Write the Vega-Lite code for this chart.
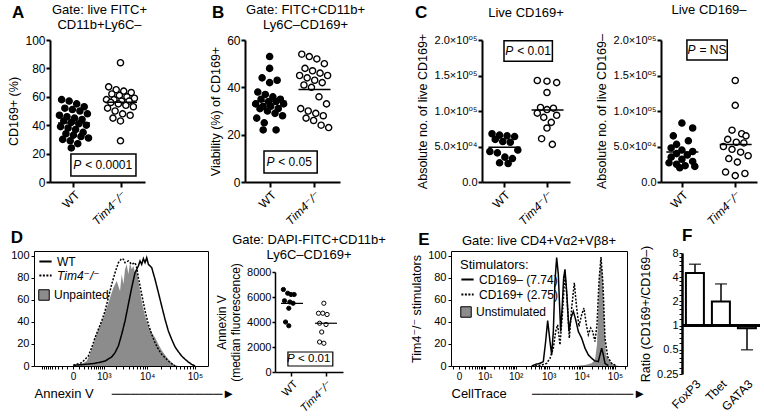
{
"$schema": "https://vega.github.io/schema/vega-lite/v6.json",
"padding": {"left": 7, "top": 3, "right": 0, "bottom": 0},
"config": {
  "font": "Liberation Sans, Arial, Helvetica, DejaVu Sans, sans-serif",
  "view": {"stroke": null},
  "axis": {"grid": false, "labelOverlap": false, "domainColor": "black", "tickColor": "black", "labelColor": "black", "titleColor": "black", "titleFontWeight": "normal", "labelFontSize": 12, "titleFontSize": 12.5},
  "title": {"fontSize": 13, "fontWeight": "normal", "color": "black"},
  "legend": {"labelColor": "black", "titleColor": "black", "labelFontSize": 12}
},
"spacing": 0,
"resolve": {"scale": {"color": "independent", "fill": "independent", "strokeDash": "independent"}, "legend": {"color": "independent", "fill": "independent", "strokeDash": "independent"}},
"vconcat": [
{
  "bounds": "flush", "spacing": 0,
  "hconcat": [
    {"width": 16, "height": 5, "data": {"values": [{}]}, "mark": {"type": "point", "opacity": 0}},
    {
      "width": 95, "height": 142,
      "title": {"text": ["Gate: live FITC+", "CD11b+Ly6C–"], "offset": -28, "dx": 2},
      "resolve": {"scale": {"x": "independent"}, "axis": {"x": "independent"}},
      "layer": [
        {
          "data": {"values": [
            {"g":"WT","v":58,"m":3},{"g":"WT","v":57,"m":10},{"g":"WT","v":55,"m":17},{"g":"WT","v":53,"m":24},
            {"g":"WT","v":52,"m":6},{"g":"WT","v":51,"m":13},{"g":"WT","v":50,"m":20},{"g":"WT","v":48,"m":27},
            {"g":"WT","v":47,"m":1},{"g":"WT","v":46,"m":8},{"g":"WT","v":45,"m":15},{"g":"WT","v":44,"m":22},
            {"g":"WT","v":43,"m":5},{"g":"WT","v":42,"m":12},{"g":"WT","v":41,"m":19},{"g":"WT","v":40,"m":26},
            {"g":"WT","v":39,"m":2},{"g":"WT","v":38,"m":9},{"g":"WT","v":37,"m":16},{"g":"WT","v":35,"m":23},
            {"g":"WT","v":34,"m":7},{"g":"WT","v":33,"m":14},{"g":"WT","v":32,"m":21},{"g":"WT","v":31,"m":28},
            {"g":"WT","v":30,"m":4},{"g":"WT","v":29,"m":11},{"g":"WT","v":27,"m":18},{"g":"WT","v":24,"m":12},
            {"g":"Tim4⁻/⁻","v":84,"m":14},{"g":"Tim4⁻/⁻","v":67,"m":3},{"g":"Tim4⁻/⁻","v":65,"m":10},{"g":"Tim4⁻/⁻","v":64,"m":17},
            {"g":"Tim4⁻/⁻","v":63,"m":24},{"g":"Tim4⁻/⁻","v":62,"m":6},{"g":"Tim4⁻/⁻","v":61,"m":13},{"g":"Tim4⁻/⁻","v":60,"m":20},
            {"g":"Tim4⁻/⁻","v":59,"m":27},{"g":"Tim4⁻/⁻","v":58,"m":1},{"g":"Tim4⁻/⁻","v":58,"m":8},{"g":"Tim4⁻/⁻","v":57,"m":15},
            {"g":"Tim4⁻/⁻","v":57,"m":22},{"g":"Tim4⁻/⁻","v":56,"m":5},{"g":"Tim4⁻/⁻","v":55,"m":12},{"g":"Tim4⁻/⁻","v":54,"m":19},
            {"g":"Tim4⁻/⁻","v":53,"m":26},{"g":"Tim4⁻/⁻","v":52,"m":2},{"g":"Tim4⁻/⁻","v":50,"m":9},{"g":"Tim4⁻/⁻","v":48,"m":16},
            {"g":"Tim4⁻/⁻","v":47,"m":23},{"g":"Tim4⁻/⁻","v":45,"m":7},{"g":"Tim4⁻/⁻","v":43,"m":14},{"g":"Tim4⁻/⁻","v":29,"m":14}
          ]},
          "layer": [
            {
              "mark": {"type": "point", "shape": "circle", "filled": true, "size": 38, "stroke": "black", "strokeWidth": 1.4, "opacity": 1},
              "encoding": {
                "x": {"field": "g", "type": "nominal", "title": null, "scale": {"type": "band", "domain": ["WT", "Tim4⁻/⁻"], "paddingInner": 0.36, "paddingOuter": 0.19},
                      "axis": {"labelAngle": -45, "labelFontSize": 12, "domainWidth": 2, "tickWidth": 2, "tickSize": 5, "labelFontStyle": {"condition": {"test": "datum.value !== 'WT'", "value": "italic"}, "value": "normal"}}},
                "xOffset": {"field": "m", "type": "ordinal", "scale": {"domain": [1,2,3,4,5,6,7,8,9,10,11,12,13,14,15,16,17,18,19,20,21,22,23,24,25,26,27,28]}},
                "y": {"field": "v", "type": "quantitative", "scale": {"domain": [0, 100], "nice": false}, "axis": {"values": [0,20,40,60,80,100], "tickCount": 1000, "format": "d", "title": "CD169+ (%)", "domainWidth": 2, "tickWidth": 2, "tickSize": 4, "labelPadding": 1}},
                "fill": {"condition": {"test": "datum.g === 'WT'", "value": "black"}, "value": "white"}
              }
            },
            {
              "mark": {"type": "tick", "color": "black", "size": 32, "thickness": 1.5},
              "encoding": {
                "x": {"field": "g", "type": "nominal", "title": null, "scale": {"type": "band", "domain": ["WT", "Tim4⁻/⁻"], "paddingInner": 0.36, "paddingOuter": 0.19}},
                "y": {"aggregate": "mean", "field": "v", "type": "quantitative"}
              }
            }
          ]
        },
        {
          "data": {"values": [{}]},
          "layer": [
            {"mark": {"type": "rect", "fill": "white", "stroke": "black", "strokeWidth": 1.5},
             "encoding": {"x": {"datum": 0.22, "type": "quantitative", "scale": {"domain": [0, 1]}, "axis": null}, "x2": {"datum": 0.905}, "y": {"datum": 4.2}, "y2": {"datum": 19.7}}},
            {"mark": {"type": "text", "text": "P", "fontStyle": "italic", "fontSize": 12, "align": "right", "baseline": "middle"},
             "encoding": {"x": {"datum": 0.33, "type": "quantitative", "scale": {"domain": [0, 1]}, "axis": null}, "y": {"datum": 12}}},
            {"mark": {"type": "text", "text": "< 0.0001", "fontSize": 12, "align": "left", "baseline": "middle"},
             "encoding": {"x": {"datum": 0.37, "type": "quantitative", "scale": {"domain": [0, 1]}, "axis": null}, "y": {"datum": 12}}},
            {"mark": {"type": "text", "text": "A", "fontSize": 17, "fontWeight": "bold", "align": "left", "baseline": "middle"},
             "encoding": {"x": {"datum": -0.4, "type": "quantitative", "scale": {"domain": [0, 1]}, "axis": null}, "y": {"datum": 119}}}
          ]
        }
      ]
    },
    {"width": 100, "height": 5, "data": {"values": [{}]}, "mark": {"type": "point", "opacity": 0}},
    {
      "width": 95, "height": 142,
      "title": {"text": ["Gate: FITC+CD11b+", "Ly6C–CD169+"], "offset": -28, "dx": 13},
      "resolve": {"scale": {"x": "independent"}, "axis": {"x": "independent"}},
      "layer": [
        {
          "data": {"values": [
            {"g":"WT","v":53,"m":14},{"g":"WT","v":48,"m":14},{"g":"WT","v":44,"m":7},{"g":"WT","v":43,"m":21},
            {"g":"WT","v":42,"m":14},{"g":"WT","v":38,"m":3},{"g":"WT","v":37,"m":10},{"g":"WT","v":36,"m":17},
            {"g":"WT","v":35,"m":24},{"g":"WT","v":35,"m":6},{"g":"WT","v":34,"m":13},{"g":"WT","v":34,"m":20},
            {"g":"WT","v":33,"m":27},{"g":"WT","v":33,"m":1},{"g":"WT","v":32,"m":8},{"g":"WT","v":32,"m":15},
            {"g":"WT","v":31,"m":22},{"g":"WT","v":31,"m":5},{"g":"WT","v":30,"m":12},{"g":"WT","v":29,"m":19},
            {"g":"WT","v":28,"m":26},{"g":"WT","v":27,"m":2},{"g":"WT","v":25,"m":9},{"g":"WT","v":22,"m":8},{"g":"WT","v":22,"m":20},
            {"g":"Tim4⁻/⁻","v":54,"m":3},{"g":"Tim4⁻/⁻","v":53,"m":10},{"g":"Tim4⁻/⁻","v":52,"m":17},{"g":"Tim4⁻/⁻","v":50,"m":24},
            {"g":"Tim4⁻/⁻","v":48,"m":6},{"g":"Tim4⁻/⁻","v":47,"m":13},{"g":"Tim4⁻/⁻","v":46,"m":20},{"g":"Tim4⁻/⁻","v":45,"m":27},
            {"g":"Tim4⁻/⁻","v":45,"m":1},{"g":"Tim4⁻/⁻","v":44,"m":8},{"g":"Tim4⁻/⁻","v":43,"m":15},{"g":"Tim4⁻/⁻","v":42,"m":22},
            {"g":"Tim4⁻/⁻","v":41,"m":5},{"g":"Tim4⁻/⁻","v":40,"m":12},{"g":"Tim4⁻/⁻","v":36,"m":19},{"g":"Tim4⁻/⁻","v":33,"m":26},
            {"g":"Tim4⁻/⁻","v":31,"m":2},{"g":"Tim4⁻/⁻","v":30,"m":9},{"g":"Tim4⁻/⁻","v":29,"m":16},{"g":"Tim4⁻/⁻","v":28,"m":23},
            {"g":"Tim4⁻/⁻","v":27,"m":7},{"g":"Tim4⁻/⁻","v":26,"m":14},{"g":"Tim4⁻/⁻","v":24,"m":21},{"g":"Tim4⁻/⁻","v":23,"m":28}
          ]},
          "layer": [
            {
              "mark": {"type": "point", "shape": "circle", "filled": true, "size": 38, "stroke": "black", "strokeWidth": 1.4, "opacity": 1},
              "encoding": {
                "x": {"field": "g", "type": "nominal", "title": null, "scale": {"type": "band", "domain": ["WT", "Tim4⁻/⁻"], "paddingInner": 0.3, "paddingOuter": 0.23},
                      "axis": {"labelAngle": -45, "labelFontSize": 12, "domainWidth": 2, "tickWidth": 2, "tickSize": 5, "labelFontStyle": {"condition": {"test": "datum.value !== 'WT'", "value": "italic"}, "value": "normal"}}},
                "xOffset": {"field": "m", "type": "ordinal", "scale": {"domain": [1,2,3,4,5,6,7,8,9,10,11,12,13,14,15,16,17,18,19,20,21,22,23,24,25,26,27,28]}},
                "y": {"field": "v", "type": "quantitative", "scale": {"domain": [0, 60], "nice": false}, "axis": {"values": [0,20,40,60], "tickCount": 1000, "format": "d", "title": "Viability  (%) of CD169+", "domainWidth": 2, "tickWidth": 2, "tickSize": 4, "labelPadding": 1}},
                "fill": {"condition": {"test": "datum.g === 'WT'", "value": "black"}, "value": "white"}
              }
            },
            {
              "mark": {"type": "tick", "color": "black", "size": 32, "thickness": 1.5},
              "encoding": {
                "x": {"field": "g", "type": "nominal", "title": null, "scale": {"type": "band", "domain": ["WT", "Tim4⁻/⁻"], "paddingInner": 0.3, "paddingOuter": 0.23}},
                "y": {"aggregate": "mean", "field": "v", "type": "quantitative"}
              }
            }
          ]
        },
        {
          "data": {"values": [{}]},
          "layer": [
            {"mark": {"type": "rect", "fill": "white", "stroke": "black", "strokeWidth": 1.5},
             "encoding": {"x": {"datum": 0.2, "type": "quantitative", "scale": {"domain": [0, 1]}, "axis": null}, "x2": {"datum": 0.76}, "y": {"datum": 3.8}, "y2": {"datum": 13.1}}},
            {"mark": {"type": "text", "text": "P", "fontStyle": "italic", "fontSize": 12, "align": "right", "baseline": "middle"},
             "encoding": {"x": {"datum": 0.31, "type": "quantitative", "scale": {"domain": [0, 1]}, "axis": null}, "y": {"datum": 8.45}}},
            {"mark": {"type": "text", "text": "< 0.05", "fontSize": 12, "align": "left", "baseline": "middle"},
             "encoding": {"x": {"datum": 0.35, "type": "quantitative", "scale": {"domain": [0, 1]}, "axis": null}, "y": {"datum": 8.45}}},
            {"mark": {"type": "text", "text": "B", "fontSize": 17, "fontWeight": "bold", "align": "left", "baseline": "middle"},
             "encoding": {"x": {"datum": -0.347, "type": "quantitative", "scale": {"domain": [0, 1]}, "axis": null}, "y": {"datum": 71.4}}}
          ]
        }
      ]
    },
    {"width": 142, "height": 5, "data": {"values": [{}]}, "mark": {"type": "point", "opacity": 0}},
    {
      "width": 88, "height": 142,
      "title": {"text": "Live CD169+", "offset": -16},
      "resolve": {"scale": {"x": "independent"}, "axis": {"x": "independent"}},
      "layer": [
        {
          "data": {"values": [
            {"g":"WT","v":68000,"m":3},{"g":"WT","v":66000,"m":10},{"g":"WT","v":65000,"m":17},{"g":"WT","v":64000,"m":24},
            {"g":"WT","v":60000,"m":6},{"g":"WT","v":57000,"m":13},{"g":"WT","v":56000,"m":20},{"g":"WT","v":45000,"m":27},
            {"g":"WT","v":43000,"m":1},{"g":"WT","v":41000,"m":8},{"g":"WT","v":35000,"m":15},{"g":"WT","v":33000,"m":22},
            {"g":"WT","v":27000,"m":10},{"g":"WT","v":26000,"m":18},
            {"g":"Tim4⁻/⁻","v":143000,"m":5},{"g":"Tim4⁻/⁻","v":142000,"m":14},{"g":"Tim4⁻/⁻","v":140000,"m":23},{"g":"Tim4⁻/⁻","v":126000,"m":14},
            {"g":"Tim4⁻/⁻","v":105000,"m":8},{"g":"Tim4⁻/⁻","v":104000,"m":20},{"g":"Tim4⁻/⁻","v":102000,"m":14},{"g":"Tim4⁻/⁻","v":97000,"m":5},
            {"g":"Tim4⁻/⁻","v":94000,"m":23},{"g":"Tim4⁻/⁻","v":91000,"m":11},{"g":"Tim4⁻/⁻","v":84000,"m":18},{"g":"Tim4⁻/⁻","v":76000,"m":14},
            {"g":"Tim4⁻/⁻","v":61000,"m":9},{"g":"Tim4⁻/⁻","v":53000,"m":19}
          ]},
          "layer": [
            {
              "mark": {"type": "point", "shape": "circle", "filled": true, "size": 38, "stroke": "black", "strokeWidth": 1.4, "opacity": 1},
              "encoding": {
                "x": {"field": "g", "type": "nominal", "title": null, "scale": {"type": "band", "domain": ["WT", "Tim4⁻/⁻"], "paddingInner": 0.3, "paddingOuter": 0.17},
                      "axis": {"labelAngle": -45, "labelFontSize": 12, "domainWidth": 2, "tickWidth": 2, "tickSize": 5, "labelFontStyle": {"condition": {"test": "datum.value !== 'WT'", "value": "italic"}, "value": "normal"}}},
                "xOffset": {"field": "m", "type": "ordinal", "scale": {"domain": [1,2,3,4,5,6,7,8,9,10,11,12,13,14,15,16,17,18,19,20,21,22,23,24,25,26,27,28]}},
                "y": {"field": "v", "type": "quantitative", "scale": {"domain": [0, 200000], "nice": false},
                      "axis": {"values": [0,50000,100000,150000,200000], "tickCount": 1000, "labelExpr": "datum.value === 0 ? '0.0' : datum.value === 50000 ? '5.0×10⁰⁴' : datum.value === 100000 ? '1.0×10⁰⁵' : datum.value === 150000 ? '1.5×10⁰⁵' : '2.0×10⁰⁵'", "labelFontSize": 11, "title": "Absolute no. of live CD169+", "domainWidth": 2, "tickWidth": 2, "tickSize": 4, "labelPadding": 1}},
                "fill": {"condition": {"test": "datum.g === 'WT'", "value": "black"}, "value": "white"}
              }
            },
            {
              "mark": {"type": "tick", "color": "black", "size": 32, "thickness": 1.5},
              "encoding": {
                "x": {"field": "g", "type": "nominal", "title": null, "scale": {"type": "band", "domain": ["WT", "Tim4⁻/⁻"], "paddingInner": 0.3, "paddingOuter": 0.17}},
                "y": {"aggregate": "mean", "field": "v", "type": "quantitative"}
              }
            }
          ]
        },
        {
          "data": {"values": [{}]},
          "layer": [
            {"mark": {"type": "rect", "fill": "white", "stroke": "black", "strokeWidth": 1.5},
             "encoding": {"x": {"datum": 0.25, "type": "quantitative", "scale": {"domain": [0, 1]}, "axis": null}, "x2": {"datum": 0.8}, "y": {"datum": 170000}, "y2": {"datum": 199000}}},
            {"mark": {"type": "text", "text": "P", "fontStyle": "italic", "fontSize": 12, "align": "right", "baseline": "middle"},
             "encoding": {"x": {"datum": 0.355, "type": "quantitative", "scale": {"domain": [0, 1]}, "axis": null}, "y": {"datum": 184500}}},
            {"mark": {"type": "text", "text": "< 0.01", "fontSize": 12, "align": "left", "baseline": "middle"},
             "encoding": {"x": {"datum": 0.4, "type": "quantitative", "scale": {"domain": [0, 1]}, "axis": null}, "y": {"datum": 184500}}},
            {"mark": {"type": "text", "text": "C", "fontSize": 17, "fontWeight": "bold", "align": "left", "baseline": "middle"},
             "encoding": {"x": {"datum": -0.76, "type": "quantitative", "scale": {"domain": [0, 1]}, "axis": null}, "y": {"datum": 238000}}}
          ]
        }
      ]
    },
    {"width": 91, "height": 5, "data": {"values": [{}]}, "mark": {"type": "point", "opacity": 0}},
    {
      "width": 96, "height": 142,
      "title": {"text": "Live CD169–", "offset": 17},
      "resolve": {"scale": {"x": "independent"}, "axis": {"x": "independent"}},
      "layer": [
        {
          "data": {"values": [
            {"g":"WT","v":83000,"m":14},{"g":"WT","v":76000,"m":24},{"g":"WT","v":65000,"m":6},{"g":"WT","v":58000,"m":20},
            {"g":"WT","v":53000,"m":9},{"g":"WT","v":48000,"m":4},{"g":"WT","v":45000,"m":14},{"g":"WT","v":43000,"m":24},
            {"g":"WT","v":40000,"m":9},{"g":"WT","v":38000,"m":19},{"g":"WT","v":35000,"m":4},{"g":"WT","v":32000,"m":14},
            {"g":"WT","v":29000,"m":24},{"g":"WT","v":27000,"m":2},{"g":"WT","v":25000,"m":9},{"g":"WT","v":23000,"m":17},
            {"g":"WT","v":22000,"m":26},{"g":"WT","v":20000,"m":12},
            {"g":"Tim4⁻/⁻","v":143000,"m":14},{"g":"Tim4⁻/⁻","v":108000,"m":14},{"g":"Tim4⁻/⁻","v":73000,"m":11},{"g":"Tim4⁻/⁻","v":68000,"m":20},
            {"g":"Tim4⁻/⁻","v":65000,"m":24},{"g":"Tim4⁻/⁻","v":60000,"m":7},{"g":"Tim4⁻/⁻","v":56000,"m":15},{"g":"Tim4⁻/⁻","v":55000,"m":22},
            {"g":"Tim4⁻/⁻","v":50000,"m":3},{"g":"Tim4⁻/⁻","v":46000,"m":11},{"g":"Tim4⁻/⁻","v":42000,"m":19},{"g":"Tim4⁻/⁻","v":37000,"m":26},
            {"g":"Tim4⁻/⁻","v":33000,"m":8},{"g":"Tim4⁻/⁻","v":28000,"m":16},{"g":"Tim4⁻/⁻","v":14000,"m":5},{"g":"Tim4⁻/⁻","v":12000,"m":23},
            {"g":"Tim4⁻/⁻","v":9000,"m":14}
          ]},
          "layer": [
            {
              "mark": {"type": "point", "shape": "circle", "filled": true, "size": 38, "stroke": "black", "strokeWidth": 1.4, "opacity": 1},
              "encoding": {
                "x": {"field": "g", "type": "nominal", "title": null, "scale": {"type": "band", "domain": ["WT", "Tim4⁻/⁻"], "paddingInner": 0.44, "paddingOuter": 0.12},
                      "axis": {"labelAngle": -45, "labelFontSize": 12, "domainWidth": 2, "tickWidth": 2, "tickSize": 5, "labelFontStyle": {"condition": {"test": "datum.value !== 'WT'", "value": "italic"}, "value": "normal"}}},
                "xOffset": {"field": "m", "type": "ordinal", "scale": {"domain": [1,2,3,4,5,6,7,8,9,10,11,12,13,14,15,16,17,18,19,20,21,22,23,24,25,26,27,28]}},
                "y": {"field": "v", "type": "quantitative", "scale": {"domain": [0, 200000], "nice": false},
                      "axis": {"values": [0,50000,100000,150000,200000], "tickCount": 1000, "labelExpr": "datum.value === 0 ? '0.0' : datum.value === 50000 ? '5.0×10⁰⁴' : datum.value === 100000 ? '1.0×10⁰⁵' : datum.value === 150000 ? '1.5×10⁰⁵' : '2.0×10⁰⁵'", "labelFontSize": 11, "title": "Absolute no. of live CD169–", "domainWidth": 2, "tickWidth": 2, "tickSize": 4, "labelPadding": 1}},
                "fill": {"condition": {"test": "datum.g === 'WT'", "value": "black"}, "value": "white"}
              }
            },
            {
              "mark": {"type": "tick", "color": "black", "size": 32, "thickness": 1.5},
              "encoding": {
                "x": {"field": "g", "type": "nominal", "title": null, "scale": {"type": "band", "domain": ["WT", "Tim4⁻/⁻"], "paddingInner": 0.44, "paddingOuter": 0.12}},
                "y": {"aggregate": "mean", "field": "v", "type": "quantitative"}
              }
            }
          ]
        },
        {
          "data": {"values": [{}]},
          "layer": [
            {"mark": {"type": "rect", "fill": "white", "stroke": "black", "strokeWidth": 1.5},
             "encoding": {"x": {"datum": 0.27, "type": "quantitative", "scale": {"domain": [0, 1]}, "axis": null}, "x2": {"datum": 0.69}, "y": {"datum": 172000}, "y2": {"datum": 200000}}},
            {"mark": {"type": "text", "text": "P", "fontStyle": "italic", "fontSize": 12, "align": "right", "baseline": "middle"},
             "encoding": {"x": {"datum": 0.36, "type": "quantitative", "scale": {"domain": [0, 1]}, "axis": null}, "y": {"datum": 186000}}},
            {"mark": {"type": "text", "text": "= NS", "fontSize": 12, "align": "left", "baseline": "middle"},
             "encoding": {"x": {"datum": 0.4, "type": "quantitative", "scale": {"domain": [0, 1]}, "axis": null}, "y": {"datum": 186000}}}
          ]
        }
      ]
    }
  ]
},
{
  "bounds": "flush", "spacing": 0,
  "resolve": {"scale": {"color": "independent", "fill": "independent", "strokeDash": "independent"}, "legend": {"color": "independent", "fill": "independent", "strokeDash": "independent"}},
  "hconcat": [
    {
      "width": 174, "height": 115,
      "view": {"stroke": "black", "strokeWidth": 1},
      "title": {"text": "D", "anchor": "start", "frame": "bounds", "fontSize": 17, "fontWeight": "bold", "offset": 3},
      "layer": [
        {
          "data": {"values": [
            {"s":"Unpainted","x":30,"y":0},{"s":"Unpainted","x":154,"y":1.5},{"s":"Unpainted","x":276,"y":4.5},{"s":"Unpainted","x":375,"y":10.6},
            {"s":"Unpainted","x":491,"y":19.7},{"s":"Unpainted","x":628,"y":28.8},{"s":"Unpainted","x":788,"y":36.4},{"s":"Unpainted","x":975,"y":43.9},
            {"s":"Unpainted","x":1195,"y":53.0},{"s":"Unpainted","x":1452,"y":62.1},{"s":"Unpainted","x":1754,"y":71.2},{"s":"Unpainted","x":2109,"y":77.3},
            {"s":"Unpainted","x":2524,"y":68.2},{"s":"Unpainted","x":2756,"y":83.3},{"s":"Unpainted","x":3010,"y":74.2},{"s":"Unpainted","x":3283,"y":87.9},
            {"s":"Unpainted","x":3581,"y":92.4},{"s":"Unpainted","x":3900,"y":83.3},{"s":"Unpainted","x":4249,"y":93.9},{"s":"Unpainted","x":4623,"y":87.9},
            {"s":"Unpainted","x":5033,"y":90.9},{"s":"Unpainted","x":5473,"y":84.8},{"s":"Unpainted","x":5953,"y":87.9},{"s":"Unpainted","x":6467,"y":77.3},
            {"s":"Unpainted","x":7030,"y":68.2},{"s":"Unpainted","x":7633,"y":59.1},{"s":"Unpainted","x":9000,"y":45.5},{"s":"Unpainted","x":10600,"y":36.4},
            {"s":"Unpainted","x":12480,"y":30.3},{"s":"Unpainted","x":14670,"y":25.8},{"s":"Unpainted","x":17270,"y":19.7},{"s":"Unpainted","x":20280,"y":14.2},
            {"s":"Unpainted","x":23850,"y":10.0},{"s":"Unpainted","x":27990,"y":6.1},{"s":"Unpainted","x":32880,"y":3.0},{"s":"Unpainted","x":38610,"y":0.9},
            {"s":"Unpainted","x":45300,"y":0}
          ]},
          "mark": {"type": "area", "color": "#8c8c8c"},
          "encoding": {
            "x": {"field": "x", "type": "quantitative", "scale": {"type": "symlog", "constant": 300, "domain": [-1630, 187000], "nice": false, "zero": false},
                  "axis": {"values": [-1000,-900,-800,-700,-600,-500,-400,-300,-200,-100,0,100,200,300,400,500,600,700,800,900,1000,2000,3000,4000,5000,6000,7000,8000,9000,10000,20000,30000,40000,50000,60000,70000,80000,90000,100000],
                           "tickCount": 1000,
                           "labelExpr": "datum.value === 0 ? '0' : datum.value === 1000 ? '10³' : datum.value === 10000 ? '10⁴' : datum.value === 100000 ? '10⁵' : ''",
                           "domain": false, "tickSize": 3, "labelFontSize": 10, "labelPadding": 2,
                           "title": "Annexin V\u00a0\u00a0\u00a0\u00a0\u00a0────────────►", "titleAnchor": "start", "titleFontSize": 13, "titlePadding": 6}},
            "y": {"field": "y", "type": "quantitative", "scale": {"domain": [0, 104.5], "nice": false}, "axis": {"values": [0,20,40,60,80,100], "tickCount": 1000, "format": "d", "domain": false, "tickSize": 3, "labelFontSize": 11, "title": null}},
            "fill": {"field": "s", "type": "nominal", "scale": {"range": ["#8c8c8c"]}, "legend": {"orient": "none", "legendX": 4, "legendY": 38, "title": null, "symbolType": "square", "symbolStrokeColor": "black", "symbolStrokeWidth": 1, "symbolSize": 110, "labelFontSize": 12, "padding": 0}}
          }
        },
        {
          "data": {"values": [
            {"s":"WT","x":5,"y":0.6},{"s":"WT","x":232,"y":1.5},{"s":"WT","x":557,"y":2.4},{"s":"WT","x":1080,"y":4.5},{"s":"WT","x":1597,"y":8.2},
            {"s":"WT","x":1923,"y":12.1},{"s":"WT","x":2307,"y":18.2},{"s":"WT","x":2756,"y":28.8},{"s":"WT","x":3283,"y":40.9},{"s":"WT","x":3900,"y":56.1},
            {"s":"WT","x":4623,"y":71.2},{"s":"WT","x":5473,"y":84.8},{"s":"WT","x":6467,"y":90.9},{"s":"WT","x":7030,"y":95.5},{"s":"WT","x":7633,"y":92.4},
            {"s":"WT","x":8292,"y":97.6},{"s":"WT","x":9000,"y":93.9},{"s":"WT","x":9774,"y":98.5},{"s":"WT","x":10600,"y":92.4},{"s":"WT","x":12480,"y":89.4},
            {"s":"WT","x":14670,"y":78.8},{"s":"WT","x":17270,"y":66.7},{"s":"WT","x":20280,"y":54.5},{"s":"WT","x":23850,"y":42.4},{"s":"WT","x":27990,"y":31.8},
            {"s":"WT","x":32880,"y":24.2},{"s":"WT","x":38610,"y":17.3},{"s":"WT","x":45300,"y":13.0},{"s":"WT","x":53100,"y":9.1},{"s":"WT","x":62400,"y":6.1},
            {"s":"WT","x":73200,"y":3.6},{"s":"WT","x":85800,"y":1.5},{"s":"WT","x":100800,"y":0},
            {"s":"Tim4⁻/⁻","x":5,"y":0.6},{"s":"Tim4⁻/⁻","x":154,"y":3.0},{"s":"Tim4⁻/⁻","x":323,"y":9.1},{"s":"Tim4⁻/⁻","x":431,"y":16.7},
            {"s":"Tim4⁻/⁻","x":557,"y":25.8},{"s":"Tim4⁻/⁻","x":704,"y":33.3},{"s":"Tim4⁻/⁻","x":877,"y":40.9},{"s":"Tim4⁻/⁻","x":1080,"y":50.0},
            {"s":"Tim4⁻/⁻","x":1318,"y":62.1},{"s":"Tim4⁻/⁻","x":1597,"y":74.2},{"s":"Tim4⁻/⁻","x":1923,"y":84.8},{"s":"Tim4⁻/⁻","x":2307,"y":93.9},
            {"s":"Tim4⁻/⁻","x":2756,"y":97.6},{"s":"Tim4⁻/⁻","x":3010,"y":97.0},{"s":"Tim4⁻/⁻","x":3283,"y":93.9},{"s":"Tim4⁻/⁻","x":3900,"y":95.5},
            {"s":"Tim4⁻/⁻","x":4623,"y":92.4},{"s":"Tim4⁻/⁻","x":5473,"y":93.9},{"s":"Tim4⁻/⁻","x":5953,"y":89.4},{"s":"Tim4⁻/⁻","x":6467,"y":80.3},
            {"s":"Tim4⁻/⁻","x":7633,"y":65.2},{"s":"Tim4⁻/⁻","x":9000,"y":50.0},{"s":"Tim4⁻/⁻","x":10600,"y":37.9},{"s":"Tim4⁻/⁻","x":12480,"y":28.8},
            {"s":"Tim4⁻/⁻","x":14670,"y":21.2},{"s":"Tim4⁻/⁻","x":17270,"y":15.2},{"s":"Tim4⁻/⁻","x":20280,"y":10.6},{"s":"Tim4⁻/⁻","x":23850,"y":7.6},
            {"s":"Tim4⁻/⁻","x":27990,"y":4.5},{"s":"Tim4⁻/⁻","x":32880,"y":2.1},{"s":"Tim4⁻/⁻","x":38610,"y":0}
          ]},
          "mark": {"type": "line", "strokeWidth": 1.5},
          "encoding": {
            "x": {"field": "x", "type": "quantitative"},
            "y": {"field": "y", "type": "quantitative"},
            "color": {"field": "s", "type": "nominal", "scale": {"domain": ["WT", "Tim4⁻/⁻"], "range": ["black", "black"]},
                      "legend": {"orient": "none", "legendX": 4, "legendY": 3, "title": null, "symbolType": "stroke", "symbolStrokeWidth": 2, "symbolSize": 150, "labelFontSize": 12, "padding": 0, "rowPadding": 0,
                                 "encode": {"labels": {"update": {"fontStyle": {"signal": "datum.label === 'WT' ? 'normal' : 'italic'"}}}}}},
            "strokeDash": {"field": "s", "type": "nominal", "scale": {"domain": ["WT", "Tim4⁻/⁻"], "range": [[1, 0], [2, 1.5]]}}
          }
        }
      ]
    },
    {"width": 67, "height": 5, "data": {"values": [{}]}, "mark": {"type": "point", "opacity": 0}},
    {
      "width": 68, "height": 121,
      "title": {"text": ["Gate: DAPI-FITC+CD11b+", "Ly6C–CD169+"], "offset": -11},
      "resolve": {"scale": {"x": "independent"}, "axis": {"x": "independent"}},
      "layer": [
        {
          "data": {"values": [
            {"g":"WT","v":6600,"m":2},{"g":"WT","v":6300,"m":6},{"g":"WT","v":6200,"m":9},{"g":"WT","v":6200,"m":12},
            {"g":"WT","v":5700,"m":3},{"g":"WT","v":5600,"m":8},{"g":"WT","v":5500,"m":11},{"g":"WT","v":5100,"m":7},
            {"g":"WT","v":4000,"m":4},{"g":"WT","v":3700,"m":7},
            {"g":"Tim4⁻/⁻","v":5500,"m":8},{"g":"Tim4⁻/⁻","v":4700,"m":3},{"g":"Tim4⁻/⁻","v":4700,"m":7},{"g":"Tim4⁻/⁻","v":4600,"m":11},
            {"g":"Tim4⁻/⁻","v":3900,"m":4},{"g":"Tim4⁻/⁻","v":3800,"m":10},{"g":"Tim4⁻/⁻","v":3200,"m":6},{"g":"Tim4⁻/⁻","v":2400,"m":4},
            {"g":"Tim4⁻/⁻","v":2300,"m":8}
          ]},
          "layer": [
            {
              "mark": {"type": "point", "shape": "circle", "filled": true, "size": 18, "stroke": "black", "strokeWidth": 1, "opacity": 1},
              "encoding": {
                "x": {"field": "g", "type": "nominal", "title": null, "scale": {"type": "band", "domain": ["WT", "Tim4⁻/⁻"], "paddingInner": 0.4, "paddingOuter": 0.2},
                      "axis": {"labelAngle": -45, "labelFontSize": 11, "domainWidth": 1.5, "tickWidth": 1.5, "tickSize": 4, "labelFontStyle": {"condition": {"test": "datum.value !== 'WT'", "value": "italic"}, "value": "normal"}}},
                "xOffset": {"field": "m", "type": "ordinal", "scale": {"domain": [1,2,3,4,5,6,7,8,9,10,11,12]}},
                "y": {"field": "v", "type": "quantitative", "scale": {"domain": [0, 8000], "nice": false, "range": [121, 21]},
                      "axis": {"values": [0,2000,4000,6000,8000], "tickCount": 1000, "format": "d", "title": ["Annexin V", "(median fluorescence)"], "labelFontSize": 11, "titleFontSize": 12, "domainWidth": 1.5, "tickWidth": 1.5, "tickSize": 3, "labelPadding": 1}},
                "fill": {"condition": {"test": "datum.g === 'WT'", "value": "black"}, "value": "white"}
              }
            },
            {
              "mark": {"type": "tick", "color": "black", "size": 22, "thickness": 1.2},
              "encoding": {
                "x": {"field": "g", "type": "nominal", "title": null, "scale": {"type": "band", "domain": ["WT", "Tim4⁻/⁻"], "paddingInner": 0.4, "paddingOuter": 0.2}},
                "y": {"aggregate": "mean", "field": "v", "type": "quantitative"}
              }
            }
          ]
        },
        {
          "data": {"values": [{}]},
          "layer": [
            {"mark": {"type": "rect", "fill": "white", "stroke": "black", "strokeWidth": 1.2},
             "encoding": {"x": {"datum": 0.19, "type": "quantitative", "scale": {"domain": [0, 1]}, "axis": null}, "x2": {"datum": 0.85}, "y": {"datum": 480}, "y2": {"datum": 1600}}},
            {"mark": {"type": "text", "text": "P", "fontStyle": "italic", "fontSize": 11.5, "align": "right", "baseline": "middle"},
             "encoding": {"x": {"datum": 0.29, "type": "quantitative", "scale": {"domain": [0, 1]}, "axis": null}, "y": {"datum": 1040}}},
            {"mark": {"type": "text", "text": "< 0.01", "fontSize": 11.5, "align": "left", "baseline": "middle"},
             "encoding": {"x": {"datum": 0.34, "type": "quantitative", "scale": {"domain": [0, 1]}, "axis": null}, "y": {"datum": 1040}}}
          ]
        }
      ]
    },
    {"width": 108, "height": 5, "data": {"values": [{}]}, "mark": {"type": "point", "opacity": 0}},
    {
      "width": 176, "height": 115,
      "view": {"stroke": "black", "strokeWidth": 1},
      "title": {"text": "Gate: live CD4+Vα2+Vβ8+", "offset": -17},
      "layer": [
        {
          "data": {"values": [
            {"s":"Unstimulated","x":6226,"y":0},{"s":"Unstimulated","x":12464,"y":0.9},{"s":"Unstimulated","x":19792,"y":2.4},{"s":"Unstimulated","x":24934,"y":5.5},
            {"s":"Unstimulated","x":28658,"y":19.2},{"s":"Unstimulated","x":31414,"y":52.7},{"s":"Unstimulated","x":34478,"y":86.3},{"s":"Unstimulated","x":37798,"y":98.5},
            {"s":"Unstimulated","x":41518,"y":86.3},{"s":"Unstimulated","x":45518,"y":55.8},{"s":"Unstimulated","x":49918,"y":25.3},{"s":"Unstimulated","x":53518,"y":10.1},
            {"s":"Unstimulated","x":70598,"y":4.0},{"s":"Unstimulated","x":99818,"y":0.9},{"s":"Unstimulated","x":125758,"y":0}
          ]},
          "mark": {"type": "area", "color": "#8c8c8c"},
          "encoding": {
            "x": {"field": "x", "type": "quantitative", "scale": {"type": "symlog", "constant": 2, "domain": [-1.48, 229600], "nice": false, "zero": false},
                  "axis": {"values": [-1,0,1,2,3,4,5,6,7,8,9,10,20,30,40,50,60,70,80,90,100,200,300,400,500,600,700,800,900,1000,2000,3000,4000,5000,6000,7000,8000,9000,10000,20000,30000,40000,50000,60000,70000,80000,90000,100000,200000],
                           "tickCount": 1000,
                           "labelExpr": "datum.value === 0 ? '0' : datum.value === 10 ? '10¹' : datum.value === 100 ? '10²' : datum.value === 1000 ? '10³' : datum.value === 10000 ? '10⁴' : datum.value === 100000 ? '10⁵' : ''",
                           "domain": false, "tickSize": 3, "labelFontSize": 10, "labelPadding": 2,
                           "title": "\u00a0\u00a0CellTrace\u00a0\u00a0\u00a0\u00a0\u00a0\u00a0\u00a0───────────►", "titleAnchor": "start", "titleFontSize": 13, "titlePadding": 6}},
            "y": {"field": "y", "type": "quantitative", "scale": {"domain": [0, 104.5], "nice": false}, "axis": {"values": [0,20,40,60,80,100], "tickCount": 1000, "format": "d", "domain": false, "tickSize": 3, "labelFontSize": 11, "title": "Tim4⁻/⁻ stimulators", "titleFontSize": 12.5}},
            "fill": {"field": "s", "type": "nominal", "scale": {"range": ["#8c8c8c"]}, "legend": {"orient": "none", "legendX": 9, "legendY": 55, "title": null, "symbolType": "square", "symbolStrokeColor": "black", "symbolStrokeWidth": 1, "symbolSize": 110, "labelFontSize": 12, "padding": 0}}
          }
        },
        {
          "data": {"values": [
            {"s":"CD169– (7.74)","x":307,"y":0},{"s":"CD169– (7.74)","x":435,"y":1.8},{"s":"CD169– (7.74)","x":548,"y":2.4},{"s":"CD169– (7.74)","x":691,"y":4.0},
            {"s":"CD169– (7.74)","x":813,"y":22.3},{"s":"CD169– (7.74)","x":935,"y":41.2},{"s":"CD169– (7.74)","x":1099,"y":22.3},{"s":"CD169– (7.74)","x":1234,"y":10.1},
            {"s":"CD169– (7.74)","x":1386,"y":31.4},{"s":"CD169– (7.74)","x":1555,"y":77.1},{"s":"CD169– (7.74)","x":1747,"y":98.5},{"s":"CD169– (7.74)","x":1961,"y":83.2},
            {"s":"CD169– (7.74)","x":2304,"y":31.4},{"s":"CD169– (7.74)","x":2588,"y":55.8},{"s":"CD169– (7.74)","x":2838,"y":80.2},{"s":"CD169– (7.74)","x":3112,"y":87.8},
            {"s":"CD169– (7.74)","x":3494,"y":68.0},{"s":"CD169– (7.74)","x":4108,"y":31.4},{"s":"CD169– (7.74)","x":4722,"y":43.6},{"s":"CD169– (7.74)","x":5550,"y":49.7},
            {"s":"CD169– (7.74)","x":6526,"y":42.1},{"s":"CD169– (7.74)","x":7852,"y":31.4},{"s":"CD169– (7.74)","x":9892,"y":25.3},{"s":"CD169– (7.74)","x":12464,"y":16.2},
            {"s":"CD169– (7.74)","x":15706,"y":10.1},{"s":"CD169– (7.74)","x":19792,"y":7.0},{"s":"CD169– (7.74)","x":24934,"y":4.6},{"s":"CD169– (7.74)","x":31414,"y":4.0},
            {"s":"CD169– (7.74)","x":35278,"y":10.1},{"s":"CD169– (7.74)","x":39618,"y":16.2},{"s":"CD169– (7.74)","x":44458,"y":10.1},{"s":"CD169– (7.74)","x":49918,"y":2.4},
            {"s":"CD169– (7.74)","x":62898,"y":0.3},
            {"s":"CD169+ (2.75)","x":387,"y":0},{"s":"CD169+ (2.75)","x":616,"y":0.9},{"s":"CD169+ (2.75)","x":872,"y":2.4},{"s":"CD169+ (2.75)","x":1099,"y":7.0},
            {"s":"CD169+ (2.75)","x":1386,"y":16.2},{"s":"CD169+ (2.75)","x":1629,"y":31.4},{"s":"CD169+ (2.75)","x":1871,"y":37.5},{"s":"CD169+ (2.75)","x":2200,"y":19.2},
            {"s":"CD169+ (2.75)","x":2588,"y":46.6},{"s":"CD169+ (2.75)","x":3112,"y":83.8},{"s":"CD169+ (2.75)","x":3578,"y":61.9},{"s":"CD169+ (2.75)","x":4202,"y":25.3},
            {"s":"CD169+ (2.75)","x":4942,"y":52.7},{"s":"CD169+ (2.75)","x":5948,"y":75.6},{"s":"CD169+ (2.75)","x":6994,"y":52.7},{"s":"CD169+ (2.75)","x":8224,"y":36.0},
            {"s":"CD169+ (2.75)","x":9892,"y":46.6},{"s":"CD169+ (2.75)","x":11620,"y":52.7},{"s":"CD169+ (2.75)","x":13670,"y":37.5},{"s":"CD169+ (2.75)","x":15706,"y":28.4},
            {"s":"CD169+ (2.75)","x":18468,"y":34.5},{"s":"CD169+ (2.75)","x":21226,"y":31.4},{"s":"CD169+ (2.75)","x":24934,"y":22.3},{"s":"CD169+ (2.75)","x":28658,"y":37.5},
            {"s":"CD169+ (2.75)","x":32938,"y":77.1},{"s":"CD169+ (2.75)","x":37798,"y":99.1},{"s":"CD169+ (2.75)","x":43458,"y":74.1},{"s":"CD169+ (2.75)","x":49918,"y":25.3},
            {"s":"CD169+ (2.75)","x":60058,"y":8.5},{"s":"CD169+ (2.75)","x":79238,"y":2.4},{"s":"CD169+ (2.75)","x":112098,"y":0}
          ]},
          "mark": {"type": "line", "strokeWidth": 1.5},
          "encoding": {
            "x": {"field": "x", "type": "quantitative"},
            "y": {"field": "y", "type": "quantitative"},
            "color": {"field": "s", "type": "nominal", "scale": {"domain": ["CD169– (7.74)", "CD169+ (2.75)"], "range": ["black", "black"]},
                      "legend": {"orient": "none", "legendX": 9, "legendY": 8, "title": "Stimulators:", "titlePadding": 0, "titleFontSize": 13, "titleFontWeight": "normal", "symbolType": "stroke", "symbolStrokeWidth": 2, "symbolSize": 150, "labelFontSize": 12, "padding": 0, "rowPadding": 1}},
            "strokeDash": {"field": "s", "type": "nominal", "scale": {"domain": ["CD169– (7.74)", "CD169+ (2.75)"], "range": [[1, 0], [2, 1.5]]}}
          }
        },
        {
          "data": {"values": [{}]},
          "mark": {"type": "text", "text": "E", "fontSize": 17, "fontWeight": "bold", "align": "left", "baseline": "middle"},
          "encoding": {"x": {"datum": -32}, "y": {"datum": 114.5}}
        }
      ]
    },
    {"width": 55, "height": 5, "data": {"values": [{}]}, "mark": {"type": "point", "opacity": 0}},
    {
      "width": 78, "height": 123,
      "title": {"text": "F", "anchor": "start", "frame": "group", "fontSize": 17, "fontWeight": "bold", "offset": 0},
      "data": {"values": [
        {"gene": "FoxP3", "ratio": 4.5, "err": 5.8},
        {"gene": "Tbet", "ratio": 2.0, "err": 3.3},
        {"gene": "GATA3", "ratio": 0.93, "err": 0.5}
      ]},
      "layer": [
        {
          "mark": {"type": "rule", "color": "black", "strokeWidth": 1.5},
          "encoding": {
            "x": {"field": "gene", "type": "nominal", "sort": ["FoxP3", "Tbet", "GATA3"], "scale": {"type": "band", "paddingInner": 0.3, "paddingOuter": 0.15},
                  "axis": {"title": null, "labelAngle": -45, "labelFontSize": 12, "domain": false, "ticks": false, "labelPadding": 4}},
            "y": {"field": "ratio", "type": "quantitative", "scale": {"type": "log", "base": 2, "domain": [0.25, 8], "range": [123, 2], "nice": false},
                  "axis": {"values": [0.25,0.3,0.35,0.4,0.45,0.5,0.6,0.7,0.8,0.9,1,1.2,1.4,1.6,1.8,2,2.4,2.8,3.2,3.6,4,4.8,5.6,6.4,7.2,8],
                           "tickCount": 1000,
                           "labelExpr": "indexof([0.25,0.5,1,2,4,8], datum.value) >= 0 ? '' + datum.value : ''",
                           "title": "Ratio (CD169+/CD169–)", "labelFontSize": 11, "domainWidth": 2.5, "tickWidth": 1, "tickSize": 3, "labelPadding": 1}},
            "y2": {"field": "err"}
          }
        },
        {
          "mark": {"type": "bar", "stroke": "black", "strokeWidth": 2},
          "encoding": {
            "x": {"field": "gene", "type": "nominal", "sort": ["FoxP3", "Tbet", "GATA3"]},
            "y": {"field": "ratio", "type": "quantitative"},
            "y2": {"datum": 1},
            "fill": {"condition": {"test": "datum.gene === 'GATA3'", "value": "#8c8c8c"}, "value": "white"}
          }
        },
        {
          "mark": {"type": "tick", "color": "black", "size": 12, "thickness": 1.5},
          "encoding": {
            "x": {"field": "gene", "type": "nominal", "sort": ["FoxP3", "Tbet", "GATA3"]},
            "y": {"field": "err", "type": "quantitative"}
          }
        },
        {
          "mark": {"type": "rule", "color": "black", "strokeWidth": 2.5},
          "encoding": {"y": {"datum": 1}}
        }
      ]
    }
  ]
}
]
}
